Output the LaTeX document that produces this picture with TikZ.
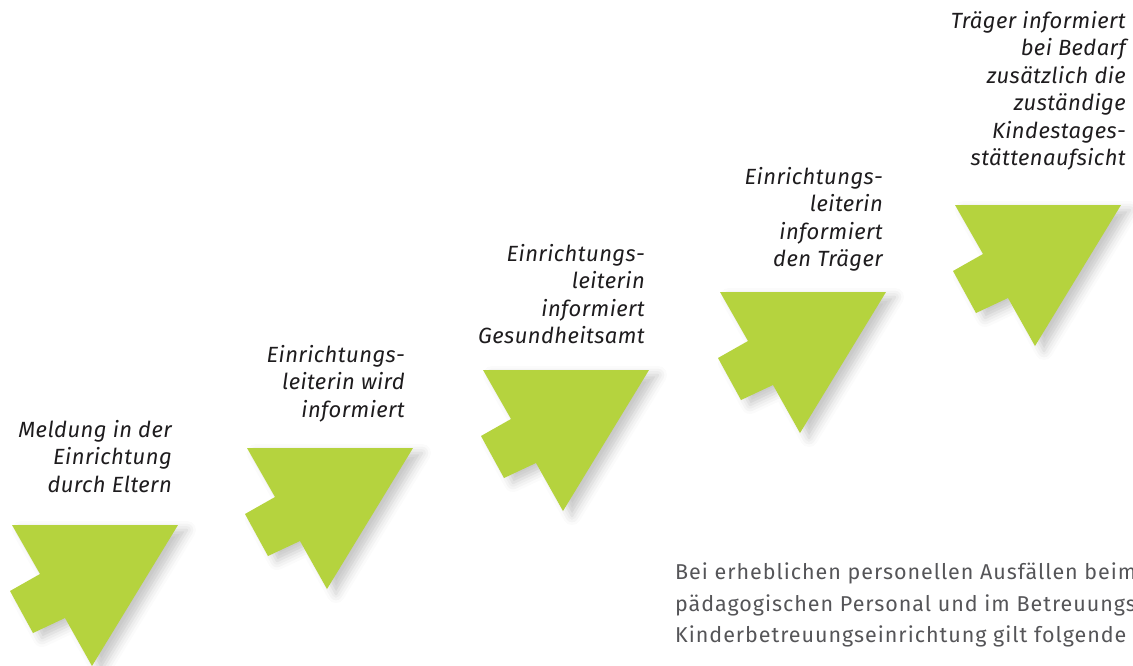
\documentclass[tikz,border=0pt]{standalone}
\usepackage{fontspec}
\setmainfont{Fira Sans}
\newfontfamily\stufenfont[LetterSpace=2]{Fira Sans}
\newfontfamily\hinweisfont[LetterSpace=4.5]{Fira Sans}
\usetikzlibrary{shadows.blur}
\definecolor{stufengruen}{RGB}{181,211,62}
\definecolor{textdunkel}{RGB}{30,28,30}
\definecolor{textgrau}{RGB}{85,85,88}
\begin{document}
\begin{tikzpicture}[x=1pt,y=-1pt]
        \tikzstyle{stufe}=[fill=stufengruen,draw=none,blur shadow={shadow xshift=9pt,shadow yshift=-5pt,shadow blur radius=9pt,shadow opacity=22}]
        \tikzstyle{schritt}=[align=right,anchor=north east,inner sep=0pt,text=textdunkel,font=\stufenfont\itshape\fontsize{22}{27.5}\selectfont]
        \tikzstyle{hinweis}=[align=left,anchor=north west,inner sep=0pt,text=textgrau,font=\hinweisfont\fontsize{21.5}{31.5}\selectfont]
        \useasboundingbox (0,0) rectangle (1133,665);
        \clip (0,0) rectangle (1133,665);
        % Pfeile
        \foreach \px/\py in {12/525, 247/448, 483/370, 720/292, 955/205}
        {
            \path[stufe,shift={(\px,\py)}] (0,0) -- (166,0) -- (80,141) -- (53,93) -- (21,108) -- (-2,66) -- (28,49) -- cycle;
        }
        % Beschriftungen
        \node [schritt] (meldung) at (172,420) {Meldung in der\\Einrichtung\\durch Eltern};
        \node [schritt] (leitung) at (405,345) {Einrichtungs-\\leiterin wird\\informiert};
        \node [schritt] (gesundheitsamt) at (645,244) {Einrichtungs-\\leiterin\\informiert\\Gesundheitsamt};
        \node [schritt] (traeger) at (883,167) {Einrichtungs-\\leiterin\\informiert\\den Träger};
        \node [schritt] (aufsicht) at (1126,11) {Träger informiert\\bei Bedarf\\zusätzlich die\\zuständige\\Kindestages-\\stättenaufsicht};
        \node [hinweis] (ausfall) at (675,563) {Bei erheblichen personellen Ausfällen beim\\pädagogischen Personal und im Betreuungs\\Kinderbetreuungseinrichtung gilt folgende};
\end{tikzpicture}
\end{document}
